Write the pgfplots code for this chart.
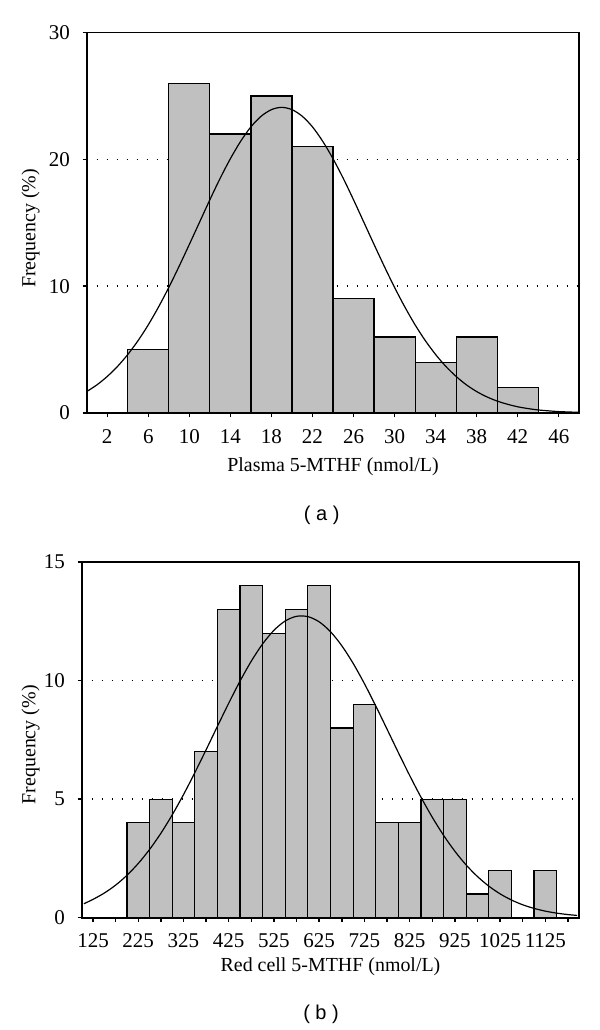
\documentclass[border=0pt]{standalone}
\usepackage{fontspec}
\setmainfont{Liberation Serif}
\newfontfamily\arialfont{Liberation Sans}
\usepackage{pgfplots}
\pgfplotsset{compat=1.18}
\definecolor{bargray}{RGB}{192,192,192}
\pgfplotsset{
  histo/.style={
    scale only axis,
    clip mode=individual,
    axis line style={line width=0.9bp, black},
    tick style={line width=0.7bp, black},
    tick align=outside,
    major tick length=2bp,
    xtick pos=bottom, ytick pos=left,
    ymin=0,
    ymajorgrids,
    grid style={line width=0.7bp, black, dash pattern=on 0.8bp off 4.2bp},
    /pgf/number format/assume math mode=true,
    ticklabel style={font=\fontsize{10.5bp}{13bp}\selectfont},
    label style={font=\fontsize{10.8bp}{13bp}\selectfont},
    yticklabel style={anchor=east, inner sep=0pt, xshift=-6.2bp},
  },
}
\begin{document}
\begin{tikzpicture}
\path[use as bounding box] (0,0) rectangle (300bp,-515bp);
% ---------- panel (a) ----------
\begin{axis}[histo,
  at={(43.35bp,-206.5bp)}, anchor=south west,
  width=246.3bp, height=190.25bp,
  xmin=0, xmax=48, ymax=30,
  xtick={2,6,10,14,18,22,26,30,34,38,42,46},
  ytick={0,10,20,30},
  xticklabel style={anchor=center, inner sep=0pt, yshift=-10bp},
  every axis x label/.style={at={(axis description cs:0.5,0)}, anchor=center, yshift=-26.8bp},
  every axis y label/.style={at={(axis description cs:-0.1137,0.485)}, anchor=center, rotate=90},
  xlabel={Plasma 5-MTHF (nmol/L)},
  ylabel={Frequency (\%)},
]
\addplot[ybar interval, fill=bargray, draw=black, line width=0.6bp] coordinates {
  (4,5) (8,26) (12,22) (16,25) (20,21) (24,9) (28,6) (32,4) (36,6) (40,2) (44,2)
};
\addplot[smooth, black, line width=0.6bp] coordinates {
  (0,1.69) (1,2.22) (2,2.88) (3,3.67) (4,4.61) (5,5.70) (6,6.95) (7,8.36) (8,9.90)
  (9,11.56) (10,13.29) (11,15.05) (12,16.81) (13,18.50) (14,20.05) (15,21.42)
  (16,22.56) (17,23.40) (18,23.92) (19,24.10) (20,23.92) (21,23.40) (22,22.56)
  (23,21.42) (24,20.05) (25,18.50) (26,16.81) (27,15.05) (28,13.29) (29,11.56)
  (30,9.90) (31,8.36) (32,6.95) (33,5.70) (34,4.61) (35,3.67) (36,2.88) (37,2.22)
  (38,1.69) (39,1.27) (40,0.94) (41,0.69) (42,0.49) (43,0.35) (44,0.24) (45,0.17)
  (46,0.11) (47,0.08) (48,0.05)
};
\node[font=\arialfont\fontsize{10bp}{12bp}\selectfont, anchor=center, yshift=-51bp] at (axis description cs:0.477,0) {( a )};
\end{axis}
% ---------- panel (b) ----------
\begin{axis}[histo,
  at={(40.85bp,-458.85bp)}, anchor=south west,
  width=248.8bp, height=177.85bp,
  xmin=100, xmax=1200, ymax=15,
  xtick={125,175,...,1175},
  xticklabels={125,{},225,{},325,{},425,{},525,{},625,{},725,{},825,{},925,{},1025,{},1125,{}},
  ytick={0,5,10,15},
  xticklabel style={anchor=center, inner sep=0pt, yshift=-9.7bp},
  every axis x label/.style={at={(axis description cs:0.5,0)}, anchor=center, yshift=-24.6bp},
  every axis y label/.style={at={(axis description cs:-0.1027,0.486)}, anchor=center, rotate=90},
  xlabel={Red cell 5-MTHF (nmol/L)},
  ylabel={Frequency (\%)},
]
\addplot[ybar interval, fill=bargray, draw=black, line width=0.6bp] coordinates {
  (200,4) (250,5) (300,4) (350,7) (400,13) (450,14) (500,12) (550,13) (600,14)
  (650,8) (700,9) (750,4) (800,4) (850,5) (900,5) (950,1) (1000,2) (1050,0)
  (1100,2) (1150,2)
};
\addplot[smooth, black, line width=0.6bp] coordinates {
  (105,0.59) (125,0.774) (150,1.040) (175,1.374) (200,1.788) (225,2.287) (250,2.877)
  (275,3.560) (300,4.333) (325,5.189) (350,6.112) (375,7.081) (400,8.070)
  (425,9.047) (450,9.978) (475,10.823) (500,11.548) (525,12.121) (550,12.515)
  (575,12.710) (600,12.697) (625,12.477) (650,12.061) (675,11.468) (700,10.727)
  (725,9.869) (750,8.932) (775,7.951) (800,6.963) (825,5.998) (850,5.082)
  (875,4.236) (900,3.473) (925,2.801) (950,2.221) (975,1.734) (1000,1.331)
  (1025,1.005) (1050,0.746) (1075,0.545) (1100,0.392) (1125,0.277) (1150,0.193)
  (1175,0.132) (1195,0.096)
};
\node[font=\arialfont\fontsize{10bp}{12bp}\selectfont, anchor=center, yshift=-48.5bp] at (axis description cs:0.481,0) {( b )};
\end{axis}
\end{tikzpicture}
\end{document}
